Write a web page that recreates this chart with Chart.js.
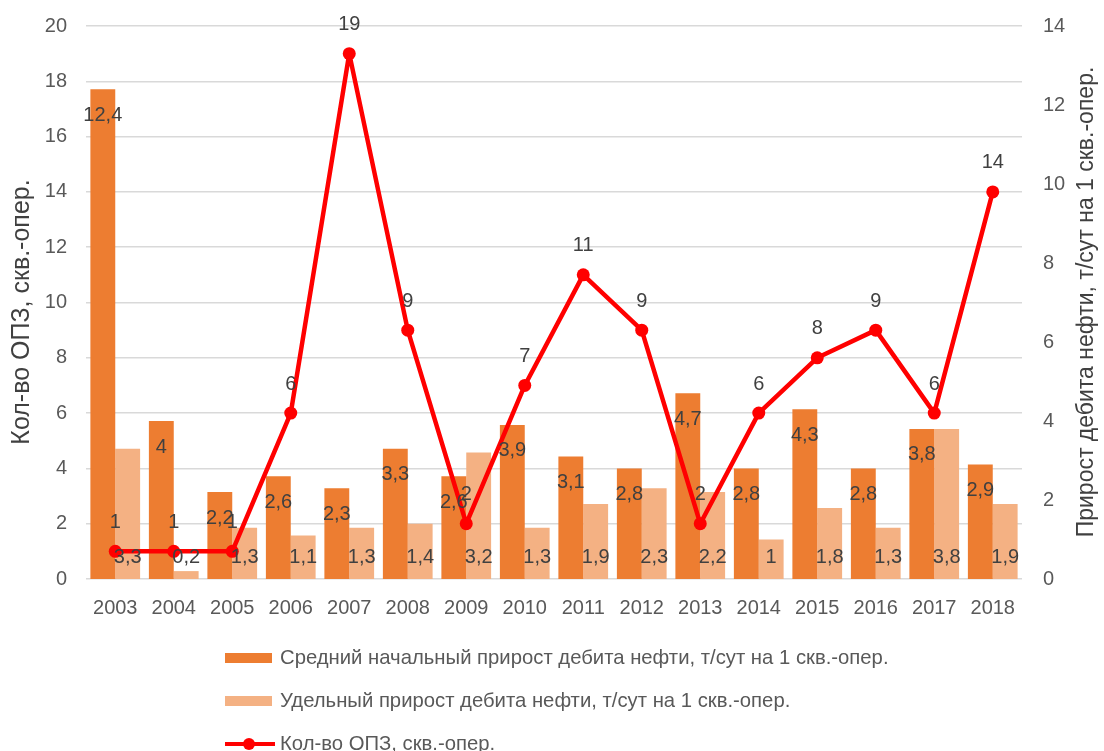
<!doctype html>
<html lang="ru">
<head>
<meta charset="utf-8">
<title>ОПЗ</title>
<script src="https://cdn.jsdelivr.net/npm/chart.js@4.4.1/dist/chart.umd.min.js"></script>
<style>
    html, body { margin: 0; padding: 0; background: #fff; }
    #wrap { position: relative; width: 1104px; height: 751px; }
    #legend { position: absolute; left: 225px; top: 636px; font-family: "Liberation Sans", sans-serif; font-size: 20.3px; color: #595959; }
    #legend .row { height: 43px; display: flex; align-items: center; white-space: nowrap; }
    #legend .box { width: 47px; height: 10px; margin-right: 8px; }
    #legend .ln { position: relative; width: 50px; height: 10px; margin-right: 5px; }
</style>
</head>
<body>
<div id="wrap">
    <canvas id="myChart" width="1104" height="751"></canvas>
    <div id="legend"></div>
</div>
<script>
    var years = ['2003', '2004', '2005', '2006', '2007', '2008', '2009', '2010', '2011', '2012', '2013', '2014', '2015', '2016', '2017', '2018'];
    // т/сут на 1 скв.-опер. (правая ось)
    var avgStart = [12.4, 4, 2.2, 2.6, 2.3, 3.3, 2.6, 3.9, 3.1, 2.8, 4.7, 2.8, 4.3, 2.8, 3.8, 2.9];
    var specific = [3.3, 0.2, 1.3, 1.1, 1.3, 1.4, 3.2, 1.3, 1.9, 2.3, 2.2, 1, 1.8, 1.3, 3.8, 1.9];
    // кол-во ОПЗ (левая ось)
    var opzCount = [1, 1, 1, 6, 19, 9, 2, 7, 11, 9, 2, 6, 8, 9, 6, 14];

    var leftTitle = 'Кол-во ОПЗ, скв.-опер.';
    var rightTitle = 'Прирост дебита нефти, т/сут на 1 скв.-опер.';

    var FONT = '"Liberation Sans", sans-serif';
    var DARK = '#ED7D31', LIGHT = '#F4B183', RED = '#FF0000';

    function fmt(v) { return String(v).replace('.', ','); }

    // подписи значений
    var valueLabels = {
        id: 'valueLabels',
        afterDatasetsDraw: function (chart) {
            var ctx = chart.ctx;
            var base = chart.scales.y1.getPixelForValue(0);
            ctx.save();
            ctx.font = '20px ' + FONT;
            ctx.fillStyle = '#404040';
            ctx.textAlign = 'center';
            ctx.textBaseline = 'middle';
            chart.data.datasets.forEach(function (ds, i) {
                var meta = chart.getDatasetMeta(i);
                meta.data.forEach(function (el, j) {
                    var y;
                    if (ds.labelPos === 'end') y = el.y + 26;
                    else if (ds.labelPos === 'base') y = base - 22;
                    else y = el.y - 29;
                    ctx.fillText(fmt(ds.data[j]), el.x, y);
                });
            });
            ctx.restore();
        }
    };

    // названия осей (обе читаются снизу вверх)
    var axisTitles = {
        id: 'axisTitles',
        afterDraw: function (chart) {
            var ctx = chart.ctx;
            ctx.save();
            ctx.fillStyle = '#404040';
            ctx.textAlign = 'center';
            ctx.textBaseline = 'middle';
            [[22, 312, leftTitle, 25], [1087, 302, rightTitle, 23]].forEach(function (t) {
                ctx.save();
                ctx.font = t[3] + 'px ' + FONT;
                ctx.translate(t[0], t[1]);
                ctx.rotate(-Math.PI / 2);
                ctx.fillText(t[2], 0, 0);
                ctx.restore();
            });
            ctx.restore();
        }
    };

    // фиксированная ширина оси без лишних отступов сверху/снизу
    function fixY(w) {
        return function (s) { s.width = w; s.paddingTop = 0; s.paddingBottom = 0; };
    }

    var ctx = document.getElementById('myChart');
    var myChart = new Chart(ctx, {
        type: 'bar',
        data: {
            labels: years,
            datasets: [{
                type: 'line',
                label: 'Кол-во ОПЗ, скв.-опер.',
                data: opzCount,
                yAxisID: 'y',
                borderColor: RED,
                backgroundColor: RED,
                borderWidth: 4.5,
                borderJoinStyle: 'round',
                pointRadius: 6.5,
                pointBorderWidth: 0,
                pointBackgroundColor: RED,
                tension: 0,
                order: 0,
                labelPos: 'top'
            }, {
                label: 'Средний начальный прирост дебита нефти, т/сут на 1 скв.-опер.',
                data: avgStart,
                yAxisID: 'y1',
                backgroundColor: DARK,
                categoryPercentage: 0.85,
                barPercentage: 1.0,
                order: 1,
                labelPos: 'end'
            }, {
                label: 'Удельный прирост дебита нефти, т/сут на 1 скв.-опер.',
                data: specific,
                yAxisID: 'y1',
                backgroundColor: LIGHT,
                categoryPercentage: 0.85,
                barPercentage: 1.0,
                order: 1,
                labelPos: 'base'
            }]
        },
        options: {
            responsive: false,
            animation: false,
            layout: { padding: { top: 26, bottom: 122, left: 0, right: 0 } },
            plugins: {
                legend: { display: false },
                tooltip: { enabled: false }
            },
            scales: {
                x: {
                    grid: { display: false, drawTicks: false },
                    border: { display: false },
                    ticks: { color: '#595959', font: { family: FONT, size: 20 }, padding: 17 },
                    afterFit: function (s) { s.height = 50; }
                },
                y: {
                    position: 'left',
                    min: 0, max: 20,
                    ticks: { stepSize: 2, color: '#595959', font: { family: FONT, size: 20 }, padding: 19 },
                    grid: { color: '#D9D9D9', lineWidth: 1.5, drawTicks: false },
                    border: { display: false },
                    afterFit: fixY(86)
                },
                y1: {
                    position: 'right',
                    min: 0, max: 14,
                    ticks: { stepSize: 2, color: '#595959', font: { family: FONT, size: 20 }, padding: 21 },
                    grid: { display: false, drawTicks: false },
                    border: { display: false },
                    afterFit: fixY(82)
                }
            }
        },
        plugins: [valueLabels, axisTitles]
    });

    // легенда: по одному элементу в строке
    var legend = document.getElementById('legend');
    [1, 2, 0].forEach(function (i) {
        var ds = myChart.data.datasets[i];
        var row = document.createElement('div');
        row.className = 'row';
        var mark;
        if (ds.type === 'line') {
            mark = document.createElement('div');
            mark.className = 'ln';
            mark.innerHTML = '<div style="position:absolute;left:0;right:0;top:3px;height:4px;background:' + RED + '"></div>' +
                '<div style="position:absolute;left:18px;top:-1px;width:12px;height:12px;border-radius:50%;background:' + RED + '"></div>';
        } else {
            mark = document.createElement('div');
            mark.className = 'box';
            mark.style.background = ds.backgroundColor;
        }
        var txt = document.createElement('span');
        txt.textContent = ds.label;
        row.appendChild(mark);
        row.appendChild(txt);
        legend.appendChild(row);
    });
</script>
</body>
</html>
